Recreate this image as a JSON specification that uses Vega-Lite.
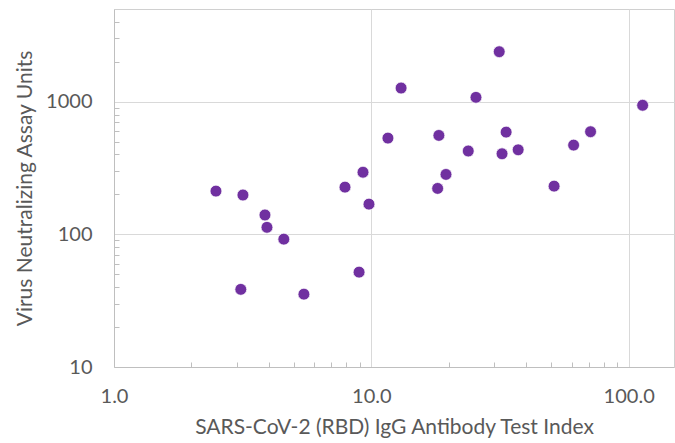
{
  "$schema": "https://vega.github.io/schema/vega-lite/v6.json",
  "autosize": {"type": "none"},
  "padding": {"left": 114, "top": 9, "right": 1, "bottom": 76},
  "width": 560,
  "height": 358,
  "background": "white",
  "config": {
    "view": {"stroke": "#d0d0d0", "strokeWidth": 1},
    "axis": {
      "labelFont": "Lato",
      "labelFontSize": 20,
      "labelColor": "#595959",
      "titleFont": "Lato",
      "titleFontSize": 21,
      "titleFontWeight": "normal",
      "titleColor": "#595959",
      "domainColor": "#bfbfbf",
      "gridColor": "#d9d9d9",
      "tickColor": "#bfbfbf",
      "labelOverlap": false,
      "labelFlush": false
    }
  },
  "data": {
    "values": [
      {"igg": 2.49, "vna": 212},
      {"igg": 3.17, "vna": 198},
      {"igg": 3.86, "vna": 140},
      {"igg": 3.93, "vna": 113},
      {"igg": 4.57, "vna": 92},
      {"igg": 3.11, "vna": 38.5},
      {"igg": 5.47, "vna": 35.4},
      {"igg": 7.9, "vna": 227},
      {"igg": 9.28, "vna": 294},
      {"igg": 9.79, "vna": 169},
      {"igg": 8.96, "vna": 51.9},
      {"igg": 11.6, "vna": 532},
      {"igg": 13.05, "vna": 1268},
      {"igg": 31.4, "vna": 2382},
      {"igg": 25.5, "vna": 1079},
      {"igg": 113.3, "vna": 940},
      {"igg": 18.3, "vna": 557},
      {"igg": 33.4, "vna": 590},
      {"igg": 71.1, "vna": 594},
      {"igg": 61.1, "vna": 471},
      {"igg": 23.8, "vna": 425},
      {"igg": 32.2, "vna": 405},
      {"igg": 37.2, "vna": 434},
      {"igg": 19.5, "vna": 283},
      {"igg": 18.1, "vna": 222},
      {"igg": 51.3, "vna": 231}
    ]
  },
  "mark": {"type": "circle", "size": 140, "color": "#7030a0", "opacity": 1, "stroke": "white", "strokeWidth": 0.7},
  "encoding": {
    "x": {
      "field": "igg",
      "type": "quantitative",
      "scale": {"type": "log", "domain": [1, 150], "nice": false},
      "axis": {
        "title": "SARS-CoV-2 (RBD) IgG Antibody Test Index",
        "values": [1, 2, 3, 4, 5, 6, 7, 8, 9, 10, 20, 30, 40, 50, 60, 70, 80, 90, 100],
        "labelExpr": "datum.value == 1 || datum.value == 10 || datum.value == 100 ? format(datum.value, '.1f') : ''",
        "tickSize": -5,
        "tickOpacity": {"condition": {"test": "datum.value == 1 || datum.value == 10 || datum.value == 100", "value": 0}, "value": 1},
        "gridOpacity": {"condition": {"test": "datum.value == 10 || datum.value == 100", "value": 1}, "value": 0},
        "labelPadding": 24,
        "titlePadding": 10
      }
    },
    "y": {
      "field": "vna",
      "type": "quantitative",
      "scale": {"type": "log", "domain": [10, 5000], "nice": false},
      "axis": {
        "title": "Virus Neutralizing Assay Units",
        "values": [10, 20, 30, 40, 50, 60, 70, 80, 90, 100, 200, 300, 400, 500, 600, 700, 800, 900, 1000, 2000, 3000, 4000],
        "labelExpr": "datum.value == 10 || datum.value == 100 || datum.value == 1000 ? format(datum.value, 'd') : ''",
        "tickSize": -5,
        "tickOpacity": {"condition": {"test": "datum.value == 10 || datum.value == 100 || datum.value == 1000", "value": 0}, "value": 1},
        "gridOpacity": {"condition": {"test": "datum.value == 100 || datum.value == 1000", "value": 1}, "value": 0},
        "labelPadding": 27,
        "titlePadding": 10
      }
    }
  }
}
